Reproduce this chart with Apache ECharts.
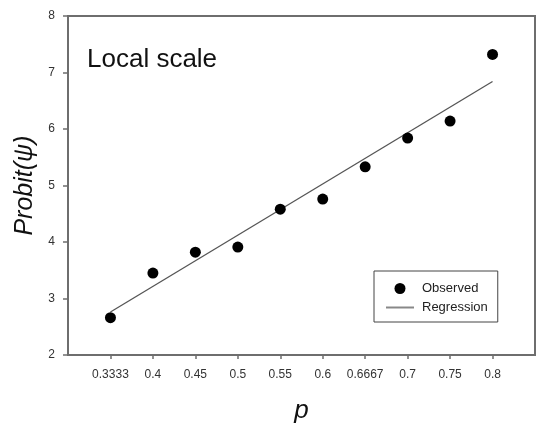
<!DOCTYPE html>
<html>
<head>
<meta charset="utf-8">
<script src="https://cdn.jsdelivr.net/npm/echarts@6/dist/echarts.min.js"></script>
<style>
  html, body { margin: 0; padding: 0; background: #fff; }
  #chart { width: 537px; height: 425px; }
</style>
</head>
<body>
<div id="chart"></div>
<script>
// Category labels for p (evenly spaced on the axis)
const pLabels = ['0.3333', '0.4', '0.45', '0.5', '0.55', '0.6', '0.6667', '0.7', '0.75', '0.8'];
// Observed probit values
const observed = [2.66, 3.45, 3.82, 3.91, 4.58, 4.76, 5.33, 5.84, 6.14, 7.32];
// Fitted regression line, end points at first and last category
const regressionEnds = [2.76, 6.84];
const yTicks = [2, 3, 4, 5, 6, 7, 8];

const idx = pLabels.map((_, i) => i);
const axisColor = '#6e6e6e';
const font = 'Liberation Sans, Arial, sans-serif';

const chart = echarts.init(document.getElementById('chart'), null, { renderer: 'canvas' });
chart.setOption({
  animation: false,
  backgroundColor: '#fff',
  grid: {
    left: 68, right: 2, top: 16, bottom: 70,
    outerBoundsMode: 'none',
    containLabel: false,
    show: true, borderColor: axisColor, borderWidth: 2, backgroundColor: 'transparent'
  },
  xAxis: {
    type: 'value',
    min: -1, max: pLabels.length,
    interval: 1,
    splitLine: { show: false },
    axisLine: { onZero: false, lineStyle: { color: axisColor, width: 2 } },
    axisTick: { show: true, inside: false, length: 4, customValues: idx, lineStyle: { color: axisColor, width: 1.5 } },
    axisLabel: {
      customValues: idx,
      margin: 14,
      color: '#333', fontSize: 12, fontFamily: font,
      formatter: v => pLabels[Math.round(v)] ?? ''
    },
    name: 'p',
    nameLocation: 'middle',
    nameGap: 43,
    nameTextStyle: { fontSize: 26, fontStyle: 'italic', color: '#111', fontFamily: font }
  },
  yAxis: {
    type: 'value',
    min: yTicks[0], max: yTicks[yTicks.length - 1], interval: 1,
    splitLine: { show: false },
    axisLine: { show: true, onZero: false, lineStyle: { color: axisColor, width: 2 } },
    axisTick: { show: true, inside: false, length: 5, lineStyle: { color: axisColor, width: 1.5 } },
    axisLabel: { margin: 13, color: '#333', fontSize: 12, fontFamily: font },
    name: 'Probit(ψ)',
    nameLocation: 'middle',
    nameRotate: 90,
    nameGap: 30,
    nameTextStyle: { fontSize: 25, fontStyle: 'italic', color: '#111', fontFamily: font }
  },
  legend: {
    orient: 'vertical',
    left: 374, top: 271,
    padding: [11, 10, 8, 11],
    itemWidth: 28, itemHeight: 11, itemGap: 6,
    borderColor: '#444', borderWidth: 1,
    backgroundColor: '#fff',
    textStyle: { fontSize: 13, color: '#222', fontFamily: font, padding: [0, 0, 0, 3] },
    data: [
      { name: 'Observed', icon: 'circle', itemStyle: { color: '#000', opacity: 1 } },
      { name: 'Regression', itemStyle: { opacity: 0 }, lineStyle: { color: '#888', width: 2 } }
    ]
  },
  graphic: [{
    type: 'text',
    left: 87, top: 47,
    style: { text: 'Local scale', fontSize: 26, fill: '#111', fontFamily: font }
  }],
  series: [
    {
      name: 'Regression',
      type: 'line',
      symbol: 'none',
      lineStyle: { color: '#555', width: 1.3 },
      itemStyle: { color: '#888' },
      data: [[0, regressionEnds[0]], [pLabels.length - 1, regressionEnds[1]]],
      z: 2
    },
    {
      name: 'Observed',
      type: 'scatter',
      symbol: 'circle',
      symbolSize: 11,
      itemStyle: { color: '#000', opacity: 1 },
      data: observed.map((v, i) => [i, v]),
      z: 3
    }
  ]
});
</script>
</body>
</html>
